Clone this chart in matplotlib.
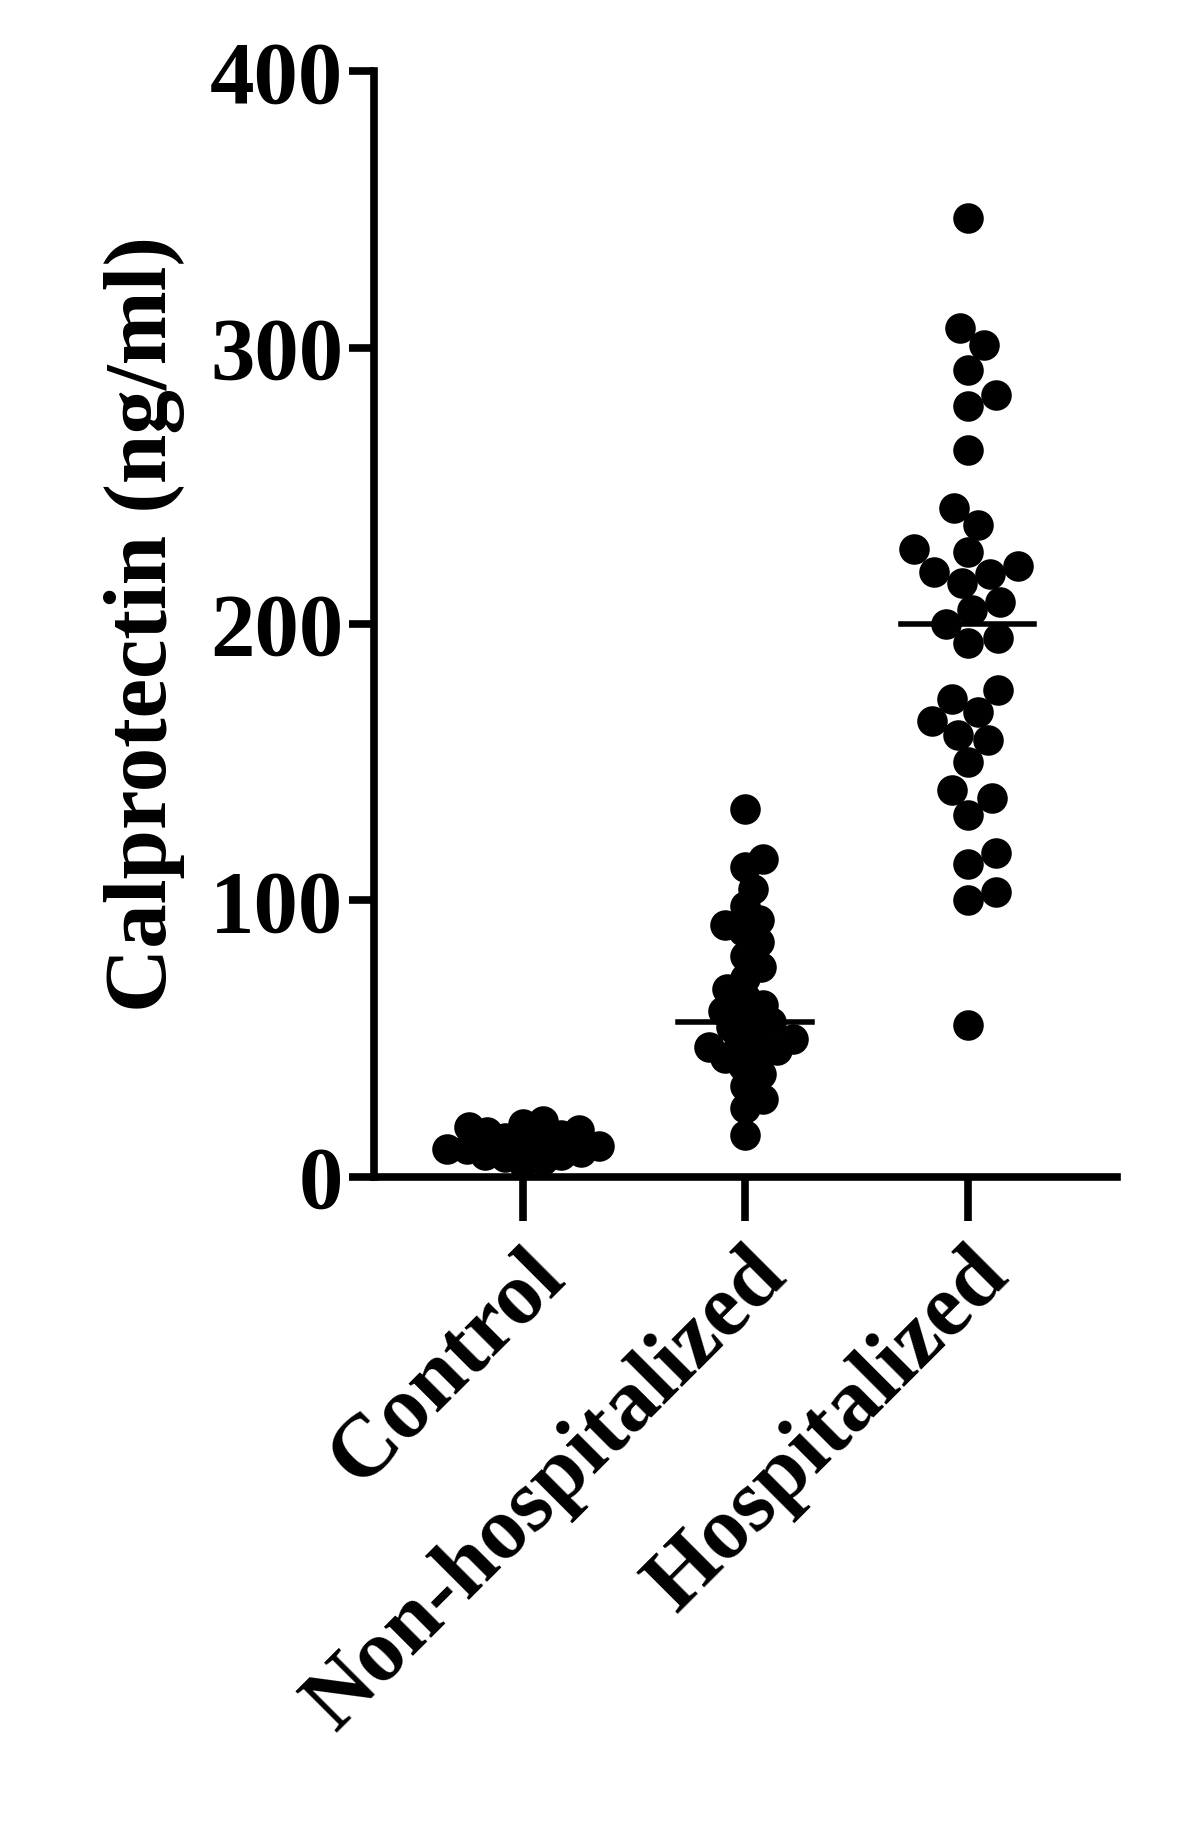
import numpy as np
import matplotlib.pyplot as plt

plt.rcParams['font.family'] = ['Liberation Serif', 'DejaVu Serif']
plt.rcParams['font.weight'] = 'bold'

groups = ['Control', 'Non-hospitalized', 'Hospitalized']
control = [5, 6, 7, 8, 8, 9, 10, 10, 11, 12, 12, 13, 13, 14, 15, 16, 17, 18, 19, 20, 14, 11]
non_hosp = [133, 115, 112, 104, 98, 93, 91, 89, 85, 80, 76, 72, 68, 65, 62, 60, 58, 56,
            54, 52, 50, 48, 47, 46, 45, 43, 40, 37, 33, 28, 25, 15]
hosp = [347, 307, 301, 292, 283, 279, 263, 242, 236, 227, 226, 221, 219, 218, 215, 208,
        205, 200, 195, 193, 176, 173, 168, 165, 160, 158, 150, 140, 137, 131, 117, 113,
        103, 100, 55]
medians = [12, 56, 200]
data = [control, non_hosp, hosp]

fig = plt.figure(figsize=(11.79, 18.30), dpi=100)
ax = fig.add_axes([0.317, 0.357, 0.63, 0.604])
ax.set_xlim(-0.67, 2.67)
ax.set_ylim(0, 400)
fig.canvas.draw()

msize = 22  # points
diam_px = msize * 100 / 72


def swarm(i, vals, overlap):
    # place points in pixel space so they do not overlap too much
    placed = []
    for v in sorted(vals):
        px, py = ax.transData.transform((i, v))
        cands = [0]
        for k in range(1, 40):
            cands += [k * 2.0, -k * 2.0]
        for dx in cands:
            ok = all((px + dx - qx) ** 2 + (py - qy) ** 2 >= (diam_px * overlap) ** 2 for qx, qy in placed)
            if ok:
                placed.append((px + dx, py))
                break
    inv = ax.transData.inverted()
    pts = [inv.transform(p) for p in placed]
    return [p[0] for p in pts], [p[1] for p in pts]


overlaps = [0.6, 0.6, 0.95]
for i, vals in enumerate(data):
    xs, ys = swarm(i, vals, overlaps[i])
    ax.scatter(xs, ys, s=msize ** 2, color='black', zorder=3, clip_on=False, linewidths=0)
    ax.plot([i - 0.3, i + 0.3], [medians[i], medians[i]], color='black', lw=4, zorder=4)

for s in ['top', 'right']:
    ax.spines[s].set_visible(False)
for s in ['left', 'bottom']:
    ax.spines[s].set_linewidth(5.5)

ax.set_yticks([0, 100, 200, 300, 400])
ax.tick_params(axis='y', length=18, width=5.5, labelsize=64, pad=4)
ax.set_xticks(range(3))
ax.set_xticklabels(groups, rotation=45, ha='right', rotation_mode='anchor')
ax.tick_params(axis='x', length=32, width=5.5, labelsize=64, pad=10)
ax.set_ylabel('Calprotectin (ng/ml)', fontsize=64, fontweight='bold', labelpad=18)

fig.savefig('out.png', dpi=100)
